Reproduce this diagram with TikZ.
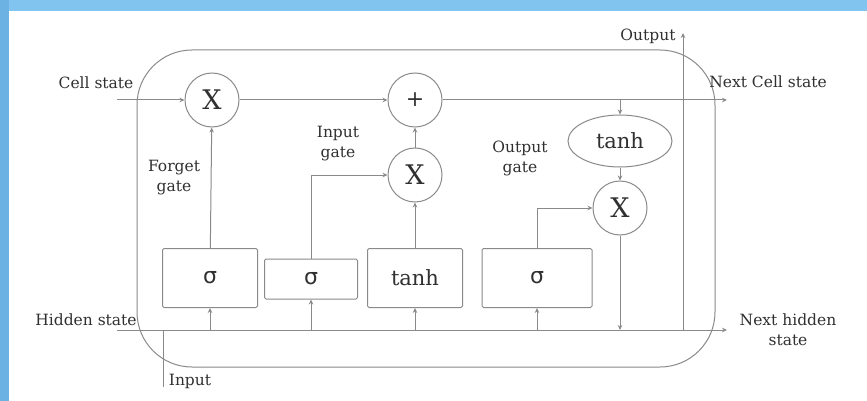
\documentclass[tikz,border=0pt]{standalone}
\usepackage{fontspec}
\setmainfont{DejaVu Serif}
\newfontfamily\sigfont{DejaVu Sans}
\usetikzlibrary{arrows.meta,shapes.geometric}
\definecolor{frametop}{HTML}{82C4F0}
\definecolor{frameleft}{HTML}{6CB2E2}
\definecolor{linegray}{HTML}{8A8A8A}
\definecolor{txtgray}{HTML}{303030}

\begin{document}
\begin{tikzpicture}[x=1pt, y=-1pt, line width=1pt,
    opcirc/.style={circle, draw=linegray, fill=white, minimum size=54pt, inner sep=0pt, text=txtgray},
    gatebox/.style={draw=linegray, rounded corners=1.5pt, minimum width=95pt, minimum height=59pt, inner sep=0pt, text=txtgray},
    lbl/.style={text=txtgray, font=\fontsize{15.5}{20}\selectfont, align=center, inner sep=0pt},
    arr/.style={draw=linegray, -{Stealth[length=5pt,width=4.5pt]}},
    wire/.style={draw=linegray}]
    \useasboundingbox (0,0) rectangle (867,401);
    \fill[frametop] (0,0) rectangle (867,11);
    \fill[frameleft] (0,0) rectangle (9,401);
    \fill[white] (9,11) rectangle (867,401);

    % cell body
    \draw[linegray, rounded corners=55pt] (137,50) rectangle (715,367);

    % operations on the cell line
    \node[opcirc, font=\fontsize{27}{27}\selectfont] (forgetX) at (212,100) {X};
    \node[opcirc, font=\fontsize{22}{22}\selectfont] (plus) at (415,100) {+};
    \node[opcirc, font=\fontsize{27}{27}\selectfont] (inX) at (415,175) {X};
    \node[ellipse, draw=linegray, minimum width=104pt, minimum height=52pt, inner sep=0pt, text=txtgray,
          font=\fontsize{21}{21}\selectfont] (tanhE) at (620,141) {tanh};
    \node[opcirc, font=\fontsize{27}{27}\selectfont] (outX) at (620,208) {X};

    % gates
    \node[gatebox, font=\sigfont\fontsize{22}{22}\selectfont] (fsig) at (210,278) {σ};
    \node[gatebox, minimum width=93pt, minimum height=40pt, font=\sigfont\fontsize{22}{22}\selectfont] (isig) at (311,279) {σ};
    \node[gatebox, font=\fontsize{21}{21}\selectfont] (tbox) at (415,278) {tanh};
    \node[gatebox, minimum width=110pt, font=\sigfont\fontsize{22}{22}\selectfont] (osig) at (537,278) {σ};

    \coordinate (cellin) at (117,100);
    \coordinate (cellout) at (727,100);
    \coordinate (hidin) at (117,330);
    \coordinate (hidout) at (727,330);
    \coordinate (outtop) at (683,33);
    \coordinate (inbot) at (163,387);

    % cell state
    \draw[arr] (cellin) -- (forgetX);
    \draw[arr] (forgetX) -- (plus);
    \draw[arr] (plus) -- (cellout);
    \draw[arr] (plus -| tanhE) -- (tanhE);
    \draw[arr] (tanhE) -- (outX);
    \draw[arr] (outX) -- (outX |- hidin);

    % hidden state
    \draw[arr] (hidin) -- (hidout);
    \foreach \g in {fsig,isig,tbox,osig}
        \draw[arr] (hidin -| \g) -- (\g);
    \draw[arr] (outtop |- hidin) -- (outtop);
    \draw[wire] (inbot |- hidin) -- (inbot);

    % gates into the operations
    \draw[arr] (fsig) -- (forgetX);
    \draw[arr] (isig.north) |- (inX);
    \draw[arr] (tbox) -- (inX);
    \draw[arr] (inX) -- (plus);
    \draw[arr] (osig.north) |- (outX);

    % labels
    \node[lbl] (lcell) at (96,83) {Cell state};
    \node[lbl] (lnextcell) at (768,82) {Next Cell state};
    \node[lbl] (lhidden) at (86,320) {Hidden state};
    \node[lbl] (lnexthid) at (788,330) {Next hidden\\state};
    \node[lbl] (linput) at (190,381) {Input};
    \node[lbl] (loutput) at (648,36) {Output};
    \node[lbl] (lforget) at (174,178) {Forget\\gate};
    \node[lbl] (lingate) at (338,144) {Input\\gate};
    \node[lbl] (loutgate) at (520,158) {Output\\gate};
\end{tikzpicture}
\end{document}
